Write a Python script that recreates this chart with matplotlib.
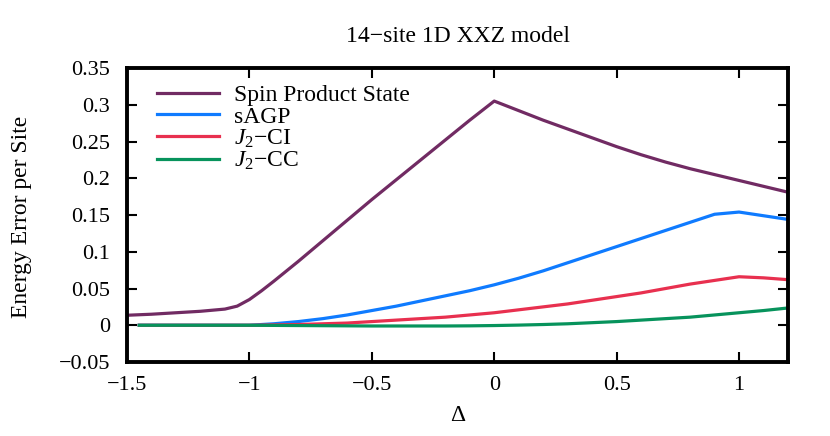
import matplotlib
matplotlib.use("Agg")
import matplotlib.pyplot as plt

plt.rcParams['font.family'] = ['Liberation Serif', 'DejaVu Serif']
plt.rcParams['mathtext.fontset'] = 'custom'
plt.rcParams['mathtext.rm'] = 'Liberation Serif'
plt.rcParams['mathtext.it'] = 'Liberation Serif:italic'

# ---- data ----
x_sps = [-1.5, -1.4, -1.3, -1.2, -1.1, -1.05, -1.0, -0.95, -0.9, -0.8, -0.7, -0.6, -0.5,
         -0.4, -0.3, -0.2, -0.1, 0.0, 0.1, 0.2, 0.3, 0.4, 0.5, 0.6, 0.7, 0.8, 0.9, 1.0, 1.1, 1.2]
y_sps = [0.0136, 0.015, 0.017, 0.019, 0.022, 0.026, 0.035, 0.047, 0.060, 0.087, 0.115, 0.143, 0.171,
         0.198, 0.225, 0.252, 0.279, 0.305, 0.292, 0.279, 0.267, 0.255, 0.243, 0.232, 0.222, 0.213, 0.205, 0.197, 0.189, 0.181]

x_m = [-1.45, -1.4, -1.3, -1.2, -1.1, -1.0, -0.9, -0.8, -0.7, -0.6, -0.5, -0.4, -0.3, -0.2, -0.1,
       0.0, 0.1, 0.2, 0.3, 0.4, 0.5, 0.6, 0.7, 0.8, 0.9, 1.0, 1.1, 1.2]
y_sagp = [0.0, 0.0, 0.0, 0.0, 0.0, 0.0, 0.002, 0.005, 0.009, 0.014, 0.020, 0.026, 0.033, 0.040, 0.047,
          0.055, 0.064, 0.074, 0.085, 0.096, 0.107, 0.118, 0.129, 0.140, 0.151, 0.154, 0.149, 0.144]
y_j2ci = [0.0, 0.0, 0.0, 0.0, 0.0, 0.0, 0.0005, 0.001, 0.002, 0.003, 0.005, 0.007, 0.009, 0.011, 0.014,
          0.017, 0.021, 0.025, 0.029, 0.034, 0.039, 0.044, 0.050, 0.056, 0.061, 0.066, 0.0645, 0.062]
y_j2cc = [0.0, 0.0, 0.0, 0.0, 0.0, 0.0, -0.0002, -0.0004, -0.0006, -0.0008, -0.001, -0.001, -0.001, -0.001, -0.0008,
          -0.0004, 0.0002, 0.001, 0.002, 0.0035, 0.005, 0.007, 0.009, 0.011, 0.014, 0.017, 0.020, 0.0235]

labels = ["Spin Product State", "sAGP", r"$J_2$−CI", r"$J_2$−CC"]
colors = ["#712B63", "#0F7BFF", "#E8304F", "#07935C"]
xticks = [-1.5, -1, -0.5, 0, 0.5, 1]
xticklabels = ["−1.5", "−1", "−0.5", "0", "0.5", "1"]
yticks = [-0.05, 0, 0.05, 0.1, 0.15, 0.2, 0.25, 0.3, 0.35]
yticklabels = ["−0.05", "0", "0.05", "0.1", "0.15", "0.2", "0.25", "0.3", "0.35"]

W, H = 830, 436
fig = plt.figure(figsize=(W/100, H/100), dpi=100)
ax = fig.add_axes([127/W, 1-362/H, (788-127)/W, (362-68)/H])

ax.plot(x_sps, y_sps, color=colors[0], lw=2.3, label=labels[0])
ax.plot(x_m, y_sagp, color=colors[1], lw=2.3, label=labels[1])
ax.plot(x_m, y_j2ci, color=colors[2], lw=2.3, label=labels[2])
ax.plot(x_m, y_j2cc, color=colors[3], lw=2.3, label=labels[3])

ax.set_xlim(-1.5, 1.2)
ax.set_ylim(-0.05, 0.35)
ax.set_xticks(xticks)
ax.set_xticklabels(xticklabels)
ax.set_yticks(yticks)
ax.set_yticklabels(yticklabels)
ax.tick_params(direction='in', length=7, width=1.5, top=True, right=True, labelsize=16)
ax.tick_params(axis='x', pad=10)
ax.tick_params(axis='y', pad=12)
for s in ax.spines.values():
    s.set_linewidth(2.8)

fs = 17
fig.text(457.5/W, 1-415/H, "Δ", fontsize=fs, ha='center', va='center')
fig.text(22/W, 1-217/H, "Energy Error per Site", fontsize=fs, ha='center', va='center', rotation=90)
fig.text(457.5/W, 1-37/H, "14−site 1D XXZ model", fontsize=fs, ha='center', va='center')

ax.legend(loc='upper left', frameon=False, fontsize=fs, handlelength=2.65,
          handletextpad=0.62, labelspacing=0.0, borderaxespad=0.3,
          bbox_to_anchor=(0.02, 1.0))

fig.savefig("out.png", dpi=100)
